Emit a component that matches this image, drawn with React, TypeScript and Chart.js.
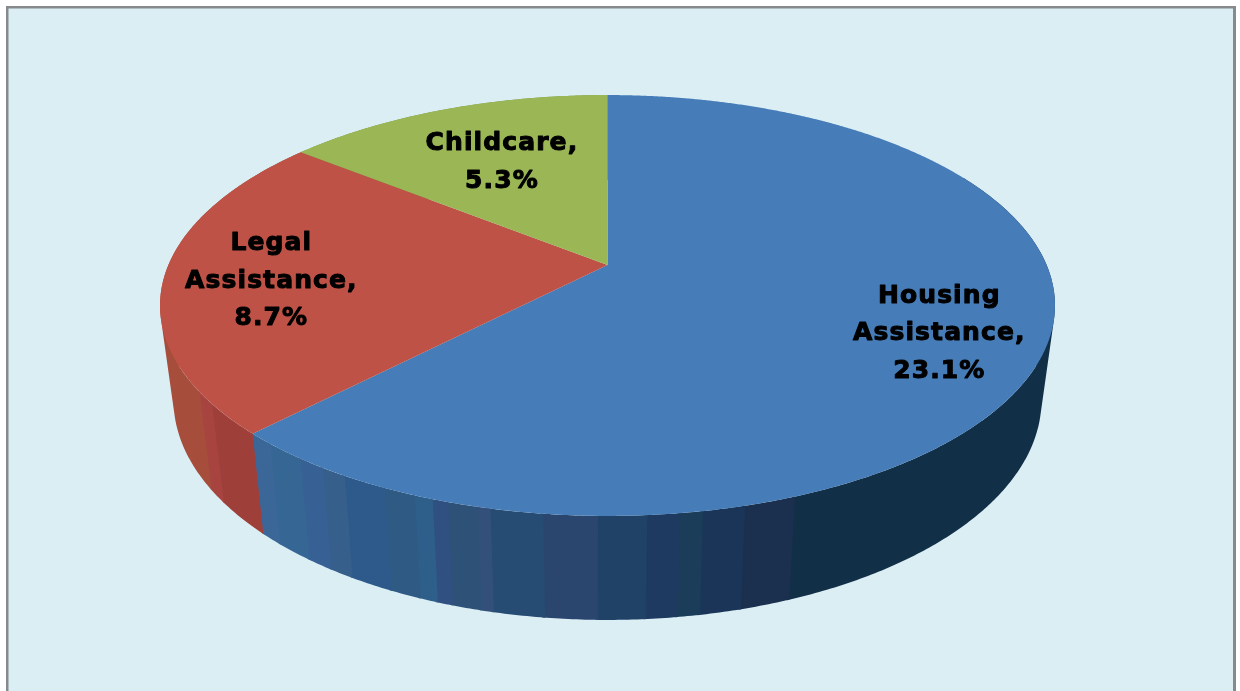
import React, { useEffect, useRef } from "react";
import { Chart, registerables } from "chart.js";

Chart.register(...registerables);

// Shares shown on the pie, in percent
const categories = ["Housing Assistance", "Legal Assistance", "Childcare"];
const shares = [23.1, 8.7, 5.3];
const topColors = ["#467cb8", "#bf5246", "#9bb755"];

// Side wall facets, clockwise from the top of the pie in degrees; each colour runs up to the next stop
const housingWallStops = [62, 159.5, 165.2, 169.85, 172.3, 175.8, 181, 186.8, 192.5, 193.9, 197.2, 199, 201.1, 204.7, 209.9, 212.9, 216.2, 221];
const housingWallColors = ["#122f48", "#1b2f4e", "#1a3558", "#1b3d59", "#1f3a60", "#1f4266", "#2b466e", "#264c74", "#33507a", "#2e5277", "#2f5080", "#2d5f8a", "#2f5a84", "#2d5a8a", "#365f8c", "#376194", "#366794", "#3b6698", "#3a70a0"];
const legalWallStops = [224, 232.7, 236];
const legalWallColors = ["#9f3f39", "#a84440", "#a64d3c"];
const childcareWallStops = [308];
const childcareWallColors = ["#7c9444"];

const wallStops = [housingWallStops, legalWallStops, childcareWallStops];
const wallColors = [housingWallColors, legalWallColors, childcareWallColors];

// Placement of each data label: distance along the mid-angle and a small pixel nudge
const labelRadius = [0.77, 0.76, 0.613];
const labelNudge = [[0, 4], [0, 4], [0, -4]];

const FONT = 'bold 25px "DejaVu Sans"';
const LINE_HEIGHT = 37.5;

// Perspective of the top face relative to the pie's own radius
const STRETCH_X = 2.583;
const STRETCH_Y = 1.192;
const TILT = 0.1924;
// Lower rim is the upper rim rescaled around the face's visual centre
const FACE_CENTRE_DY = 40.5;
const RIM_DROP = 94.5;
const RIM_SCALE_X = 434 / 447.5;
const RIM_SCALE_Y = 220 / 210.5;
// Each facet runs slightly under the next one so no seam shows between them
const FACET_OVERLAP = 0.3;

type Pt = { x: number; y: number };

function project(el: any, deg: number, r = 1): Pt {
  const t = (deg * Math.PI) / 180;
  const ux = Math.sin(t) * r;
  const uy = -Math.cos(t) * r;
  const w = 1 - TILT * uy;
  const R = el.outerRadius;
  return { x: el.x + (STRETCH_X * R * ux) / w, y: el.y + (STRETCH_Y * R * uy) / w };
}

function lowerRim(el: any, p: Pt): Pt {
  const cy = el.y + FACE_CENTRE_DY;
  return { x: el.x + (p.x - el.x) * RIM_SCALE_X, y: cy + RIM_DROP + (p.y - cy) * RIM_SCALE_Y };
}

function degs(el: any): [number, number] {
  return [(el.startAngle * 180) / Math.PI + 90, (el.endAngle * 180) / Math.PI + 90];
}

function signedArea(q: Pt[]): number {
  return q.reduce((sum, p, i) => {
    const n = q[(i + 1) % q.length];
    return sum + p.x * n.y - n.x * p.y;
  }, 0);
}

// A facet is one path of short quads, all wound the same way, so that its outline
// follows the silhouette of the drum when the non-zero fill takes their union
function drawWall(ctx: CanvasRenderingContext2D, el: any, from: number, to: number, color: string) {
  if (to <= from) return;
  const steps = Math.max(2, Math.ceil((to - from) / 0.5));
  ctx.beginPath();
  for (let i = 0; i < steps; i++) {
    const a = project(el, from + ((to - from) * i) / steps);
    const b = project(el, from + ((to - from) * (i + 1)) / steps);
    const quad = [a, b, lowerRim(el, b), lowerRim(el, a)];
    if (signedArea(quad) < 0) quad.reverse();
    quad.forEach((p, n) => (n ? ctx.lineTo(p.x, p.y) : ctx.moveTo(p.x, p.y)));
    ctx.closePath();
  }
  ctx.fillStyle = color;
  ctx.fill();
}

function drawTop(ctx: CanvasRenderingContext2D, el: any, color: string) {
  const [from, to] = degs(el);
  ctx.beginPath();
  ctx.moveTo(el.x, el.y);
  const steps = Math.ceil((to - from) / 0.25);
  for (let i = 0; i <= steps; i++) {
    const p = project(el, from + ((to - from) * i) / steps);
    ctx.lineTo(p.x, p.y);
  }
  ctx.closePath();
  ctx.fillStyle = color;
  ctx.fill();
}

const projectedPie = {
  id: "projectedPie",
  beforeDraw(chart: any) {
    const { ctx, width } = chart;
    ctx.save();
    ctx.fillStyle = "#ffffff";
    ctx.fillRect(0, 0, width, chart.height);
    ctx.fillStyle = "#868a8c";
    ctx.fillRect(6, 6, 1230, chart.height);
    ctx.fillStyle = "#dbeef4";
    ctx.fillRect(8.5, 8.5, 1224.5, chart.height);
    ctx.restore();
  },
  // Replaces the flat arcs with the tilted pie, using the angles Chart.js computed
  beforeDatasetDraw(chart: any, args: any) {
    const { ctx } = chart;
    const arcs = args.meta.data;
    ctx.save();
    arcs.forEach((el: any, i: number) => {
      const [from, to] = degs(el);
      const stops = wallStops[i];
      stops.forEach((stop, s) => {
        const next = s + 1 < stops.length ? stops[s + 1] : to;
        drawWall(ctx, el, Math.max(stop, from), Math.min(next, to) + FACET_OVERLAP, wallColors[i][s]);
      });
    });
    arcs.forEach((el: any, i: number) => drawTop(ctx, el, topColors[i]));

    ctx.font = FONT;
    ctx.letterSpacing = "1.1px";
    ctx.textAlign = "center";
    ctx.textBaseline = "alphabetic";
    ctx.fillStyle = "#000000";
    ctx.strokeStyle = "#000000";
    ctx.lineWidth = 1.0;
    ctx.lineJoin = "round";
    arcs.forEach((el: any, i: number) => {
      const [from, to] = degs(el);
      const c = project(el, (from + to) / 2, labelRadius[i]);
      const words = categories[i].split(" ");
      words[words.length - 1] += ",";
      const lines = [...words, `${shares[i].toFixed(1)}%`];
      lines.forEach((line, n) => {
        const x = c.x + labelNudge[i][0];
        const y = c.y + labelNudge[i][1] + (n - (lines.length - 1) / 2) * LINE_HEIGHT + 9;
        ctx.fillText(line, x, y);
        ctx.strokeText(line, x, y);
      });
    });
    ctx.restore();
    return false;
  },
};

export default function App() {
  const ref = useRef<HTMLCanvasElement>(null);
  useEffect(() => {
    const chart = new Chart(ref.current as HTMLCanvasElement, {
      type: "pie",
      data: {
        labels: categories,
        datasets: [{ data: shares, backgroundColor: topColors, borderWidth: 0 }],
      },
      options: {
        animation: false,
        responsive: false,
        layout: { padding: { left: 437.5, right: 462.5, top: 95, bottom: 256 } },
        plugins: { legend: { display: false }, tooltip: { enabled: false } },
      },
      plugins: [projectedPie],
    } as any);
    return () => chart.destroy();
  }, []);
  return (
    <div style={{ position: "fixed", left: 0, top: 0 }}>
      <canvas ref={ref} width={1240} height={691} style={{ display: "block" }} />
    </div>
  );
}
